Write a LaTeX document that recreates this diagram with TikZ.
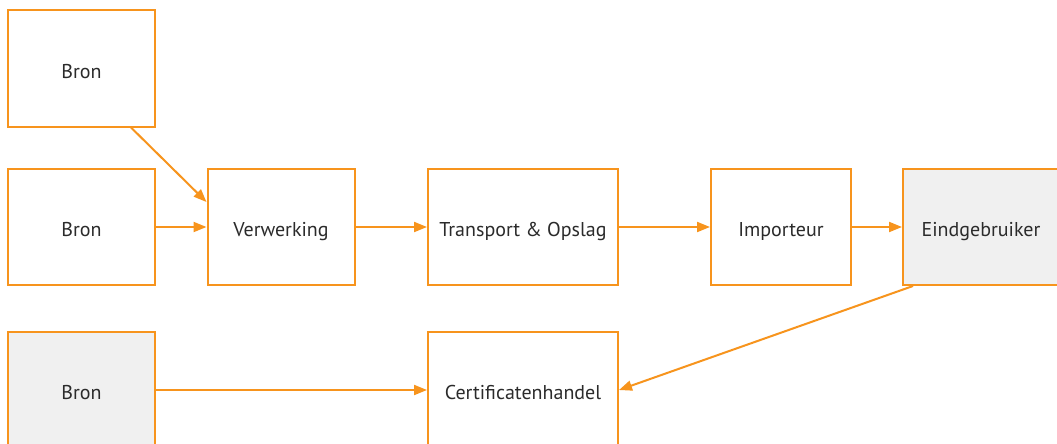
\documentclass[tikz,border=0pt]{standalone}
\usepackage{fontspec}
\setmainfont{PT Sans}
\usetikzlibrary{arrows.meta,calc}
\definecolor{org}{HTML}{F7941D}
\definecolor{gfill}{HTML}{F0F0F0}
\definecolor{txt}{HTML}{2B2B2B}
\tikzset{
  box/.style={draw=org, line width=2pt, fill=white, minimum width=147pt, minimum height=116pt, inner sep=0pt, text height=19.4pt, text depth=0pt, font=\fontsize{20}{24}\selectfont, text=txt},
  wide/.style={box, minimum width=190pt},
  grey/.style={fill=gfill},
  conn/.style={draw=org, line width=2pt, -{Triangle[length=13pt,width=10pt]}}
}
\begin{document}
\begin{tikzpicture}[x=1pt,y=-1pt]
\clip (0,0) rectangle (1057,444);
\fill[white] (0,0) rectangle (1057,444);
\node[box] (b1) at (81.5,68.5) {Bron};
\node[box] (b2) at (81.5,227) {Bron};
\node[box] (v) at (281,227) {Verwerking};
\node[wide] (t) at (523,227) {Transport \& Opslag};
\node[box, minimum width=140pt] (i) at (781,227) {Importeur};
\node[box, grey, minimum width=156pt] (e) at (981,227) {Eindgebruiker};
\node[box, grey] (b3) at (81.5,390) {Bron};
\node[wide] (c) at (523,390) {Certificatenhandel};
\draw[conn] ($(b1.south west)+(124,0)$) -- ($(v.west)+(0,-25)$);
\draw[conn] (b2) -- (v);
\draw[conn] (v) -- (t);
\draw[conn] (t) -- (i);
\draw[conn] (i) -- (e);
\draw[conn] ($(e.south west)+(11,0)$) -- (c.east);
\draw[conn] (b3) -- (c);
\end{tikzpicture}
\end{document}
